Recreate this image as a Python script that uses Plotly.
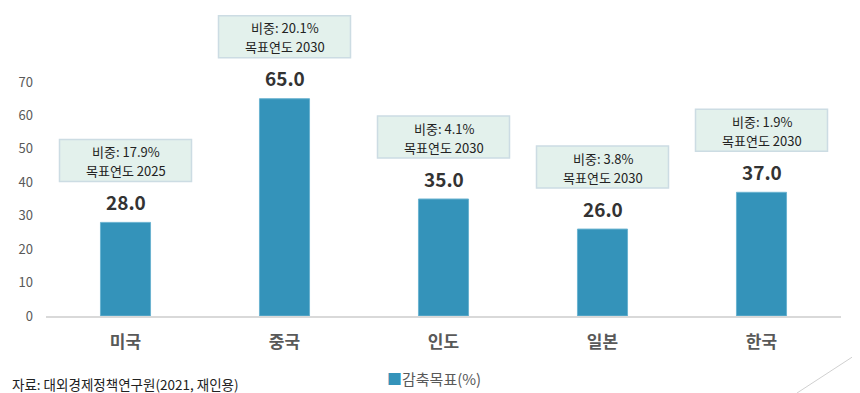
import plotly.graph_objects as go

countries = ["미국", "중국", "인도", "일본", "한국"]
targets = [28.0, 65.0, 35.0, 26.0, 37.0]
shares = ["17.9%", "20.1%", "4.1%", "3.8%", "1.9%"]
target_years = ["2025", "2030", "2030", "2030", "2030"]
series_name = "감축목표(%)"
source_text = "자료: 대외경제정책연구원(2021, 재인용)"

FONT = "Noto Sans CJK KR, Malgun Gothic, sans-serif"
BAR = "#3493BA"

# page body has an 8px margin, so the figure is laid out 8px up/left
OFF = 8
W, H = 860 - OFF, 393 - OFF
L = 46 - OFF
R = W - (841 - OFF)
T = 0
B = H - (316 - OFF)
PW, PH = W - L - R, H - T - B
YMAX = (316 - OFF) / 3.343


def px_x(px):
    return (px - OFF - L) / PW


def px_y(py):
    return (H - B - (py - OFF)) / PH


fig = go.Figure()
fig.add_trace(go.Bar(
    x=countries, y=targets, name=series_name,
    marker=dict(color=BAR, line=dict(color="#6BB3D0", width=1)),
    width=0.315, showlegend=False,
))

annotations = []
shapes = []
for i, (c, v, s, yr) in enumerate(zip(countries, targets, shares, target_years)):
    annotations.append(dict(
        x=c, y=v, xref="x", yref="y", text=f"<b>{v:.1f}</b>",
        showarrow=False, yshift=21, yanchor="middle",
        font=dict(family=FONT, size=19, color="#333333"),
    ))
    shapes.append(dict(
        type="rect", xref="x", yref="y",
        xsizemode="pixel", xanchor=i, x0=-66, x1=66,
        ysizemode="pixel", yanchor=v, y0=41, y1=83,
        fillcolor="#E3F1EC", line=dict(color="#CCDCE3", width=1.5),
        layer="above",
    ))
    annotations.append(dict(
        x=c, y=v, xref="x", yref="y", text=f"비중: {s}",
        showarrow=False, yshift=71, yanchor="middle",
        font=dict(family=FONT, size=13, color="#222222"),
    ))
    annotations.append(dict(
        x=c, y=v, xref="x", yref="y", text=f"목표연도 {yr}",
        showarrow=False, yshift=52, yanchor="middle",
        font=dict(family=FONT, size=13, color="#222222"),
    ))
annotations.append(dict(
    x=px_x(10), y=px_y(384), xref="paper", yref="paper",
    xanchor="left", yanchor="middle", text=source_text, showarrow=False,
    font=dict(family=FONT, size=13.5, color="#222222"),
))
annotations.append(dict(
    x=px_x(385), y=px_y(378), xref="paper", yref="paper",
    xanchor="left", yanchor="middle",
    text=f"<span style='color:{BAR}'>■</span>{series_name}", showarrow=False,
    font=dict(family=FONT, size=15, color="#595959"),
))
shapes.append(dict(type="line", xref="paper", yref="paper",
                   x0=px_x(860), y0=px_y(352), x1=px_x(797), y1=px_y(393),
                   line=dict(color="#D0D0D0", width=1)))

fig.update_layout(
    width=W, height=H,
    margin=dict(l=L, r=R, t=T, b=B, autoexpand=False),
    paper_bgcolor="white", plot_bgcolor="white",
    annotations=annotations,
    shapes=shapes,
    showlegend=False,
    xaxis=dict(showline=True, linecolor="#D9D9D9", linewidth=1.5, ticks="",
               ticklabelstandoff=10,
               tickfont=dict(family=FONT, size=17, color="#595959"),
               tickprefix="<b>", ticksuffix="</b>"),
    yaxis=dict(range=[0, YMAX], tickvals=[0, 10, 20, 30, 40, 50, 60, 70],
               showgrid=False, zeroline=False, showline=False, ticks="",
               ticklabelstandoff=12,
               tickfont=dict(family=FONT, size=13, color="#595959")),
)

fig.write_html("out.html")
